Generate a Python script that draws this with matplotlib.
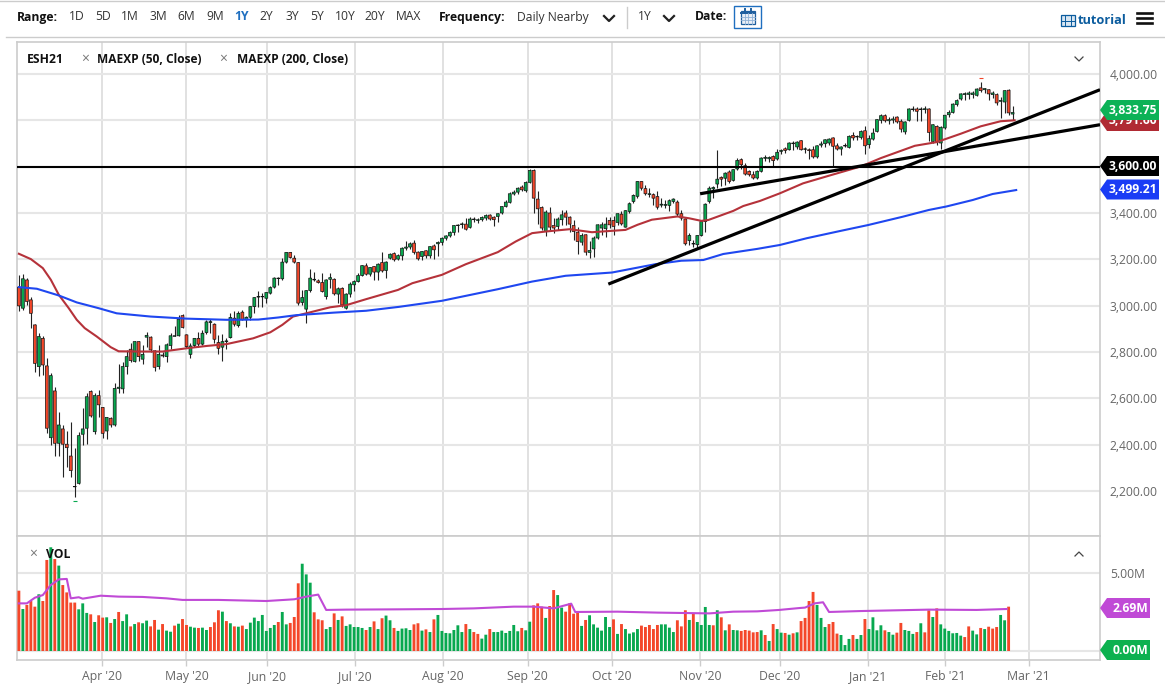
import matplotlib
matplotlib.use("Agg")
import matplotlib.pyplot as plt
from matplotlib.patches import Polygon, Rectangle
from matplotlib.lines import Line2D

plt.rcParams['font.family'] = ['Open Sans', 'DejaVu Sans']

# daily bars
opens = [3080,2989,3111,3025,2917,2737,2859,2740,2430,2632,
         2406,2468,2402,2351,2218,2233,2445,2471,2630,2456,
         2612,2561,2459,2514,2485,2643,2641,2737,2812,2759,
         2845,2769,2864,2864,2805,2737,2787,2780,2828,2868,
         2870,2957,2874,2790,2828,2859,2834,2884,2927,2920,
         2841,2821,2845,2862,2946,2914,2972,2939,2950,2996,
         3037,3038,3032,3054,3080,3117,3116,3188,3230,3205,
         3186,3014,2985,3065,3114,3107,3100,3039,3114,3114,
         3050,3075,2989,3050,3090,3104,3130,3172,3136,3169,
         3145,3186,3152,3205,3225,3201,3215,3248,3253,3270,
         3231,3212,3237,3215,3258,3267,3273,3291,3301,3316,
         3346,3350,3352,3338,3371,3368,3371,3378,3391,3382,
         3385,3400,3428,3446,3482,3490,3512,3496,3532,3584,
         3460,3424,3320,3400,3346,3342,3371,3400,3382,3346,
         3317,3274,3306,3230,3245,3292,3335,3332,3368,3368,
         3359,3395,3339,3407,3450,3472,3536,3505,3480,3479,
         3471,3434,3433,3433,3450,3447,3397,3374,3281,3266,
         3263,3303,3363,3450,3504,3525,3554,3550,3577,3541,
         3590,3630,3604,3580,3565,3551,3580,3636,3634,3644,
         3633,3666,3677,3673,3699,3685,3712,3675,3673,3673,
         3642,3693,3699,3702,3724,3690,3676,3689,3683,3735,
         3728,3726,3755,3695,3719,3752,3800,3820,3798,3801,
         3814,3796,3750,3800,3846,3849,3846,3846,3849,3709,
         3774,3702,3767,3824,3834,3868,3892,3911,3912,3911,
         3908,3940,3932,3932,3911,3911,3882,3879,3930,3827]
closes = [2999,3116,3018,2967,2751,2867,2744,2471,2698,2406,
          2485,2402,2387,2288,2220,2439,2468,2607,2524,2612,
          2572,2449,2518,2485,2643,2648,2737,2780,2763,2845,
          2780,2790,2872,2809,2734,2790,2783,2831,2870,2870,
          2941,2906,2823,2826,2859,2834,2881,2930,2931,2855,
          2816,2845,2848,2949,2920,2967,2939,2950,2996,3035,
          3039,3039,3057,3078,3119,3119,3188,3230,3208,3188,
          3011,3035,3065,3119,3111,3100,3061,3111,3121,3051,
          3073,3003,3050,3093,3104,3130,3173,3136,3165,3145,
          3179,3150,3188,3222,3198,3216,3248,3253,3267,3230,
          3202,3234,3215,3255,3241,3273,3291,3301,3316,3346,
          3348,3353,3330,3374,3374,3371,3381,3389,3374,3371,
          3397,3428,3447,3483,3490,3507,3500,3532,3584,3464,
          3418,3335,3404,3339,3335,3374,3392,3382,3352,3320,
          3277,3303,3231,3238,3292,3349,3349,3352,3349,3342,
          3397,3353,3410,3440,3476,3536,3507,3483,3483,3464,
          3425,3438,3437,3453,3460,3395,3378,3267,3303,3267,
          3303,3363,3438,3507,3510,3546,3546,3572,3536,3587,
          3627,3608,3568,3565,3551,3580,3637,3640,3640,3626,
          3662,3670,3670,3702,3702,3706,3673,3677,3669,3642,
          3690,3698,3716,3719,3688,3676,3685,3692,3731,3724,
          3731,3752,3690,3721,3745,3803,3820,3798,3803,3806,
          3793,3762,3793,3849,3849,3839,3849,3850,3748,3781,
          3705,3770,3822,3834,3870,3885,3914,3915,3918,3918,
          3935,3928,3937,3914,3918,3875,3886,3928,3832,3833.75]
highs = [3133,3136,3119,3039,2920,2884,2870,2773,2708,2651,
         2543,2485,2459,2499,2384,2456,2560,2622,2636,2622,
         2636,2564,2521,2521,2668,2747,2759,2809,2838,2848,
         2848,2831,2888,2870,2809,2831,2802,2838,2881,2914,
         2960,2965,2877,2838,2862,2888,2895,2939,2941,2924,
         2874,2877,2859,2967,2975,2977,2982,2956,2999,3039,
         3064,3054,3061,3083,3123,3123,3205,3231,3231,3219,
         3188,3068,3068,3158,3147,3114,3143,3114,3143,3119,
         3080,3080,3054,3100,3111,3140,3176,3183,3169,3172,
         3183,3230,3191,3227,3230,3222,3255,3277,3274,3284,
         3238,3238,3241,3258,3265,3277,3296,3307,3323,3349,
         3351,3359,3378,3382,3382,3378,3385,3395,3395,3388,
         3402,3431,3454,3489,3500,3512,3522,3536,3590,3590,
         3493,3431,3414,3425,3378,3382,3414,3414,3389,3371,
         3338,3313,3310,3277,3299,3352,3359,3382,3382,3388,
         3400,3407,3414,3446,3482,3540,3540,3522,3507,3486,
         3496,3464,3457,3460,3464,3454,3414,3378,3313,3284,
         3306,3371,3443,3515,3518,3670,3558,3577,3584,3591,
         3637,3637,3615,3587,3580,3587,3642,3652,3644,3652,
         3676,3676,3685,3705,3709,3712,3716,3685,3680,3690,
         3695,3709,3721,3724,3728,3702,3690,3702,3735,3748,
         3738,3757,3774,3738,3767,3806,3829,3827,3814,3817,
         3820,3806,3798,3853,3860,3856,3857,3863,3853,3786,
         3781,3774,3824,3846,3875,3892,3918,3921,3925,3925,
         3940,3964,3940,3935,3925,3918,3899,3932,3935,3860]
lows = [2975,2982,3003,2903,2715,2698,2701,2449,2399,2351,
        2351,2262,2305,2262,2175,2230,2399,2401,2521,2445,
        2521,2427,2425,2478,2482,2622,2622,2705,2759,2756,
        2762,2749,2823,2802,2720,2726,2777,2759,2812,2867,
        2867,2903,2816,2773,2823,2823,2831,2878,2881,2838,
        2792,2763,2813,2859,2914,2910,2936,2907,2939,2970,
        2993,2996,3011,3051,3075,3090,3111,3183,3205,3183,
        3003,3001,2927,3061,3108,3097,3057,3028,3075,3047,
        3011,2996,2985,3039,3064,3100,3126,3133,3130,3109,
        3111,3147,3121,3201,3193,3196,3195,3241,3244,3224,
        3195,3198,3205,3205,3201,3215,3263,3284,3296,3306,
        3320,3335,3325,3335,3359,3356,3364,3371,3368,3345,
        3359,3397,3424,3443,3476,3483,3493,3492,3529,3400,
        3352,3327,3299,3327,3313,3327,3349,3349,3317,3284,
        3224,3263,3219,3205,3209,3289,3306,3296,3335,3303,
        3349,3349,3338,3402,3443,3464,3500,3476,3471,3435,
        3418,3424,3421,3407,3443,3388,3371,3263,3263,3253,
        3244,3299,3316,3443,3464,3507,3515,3522,3529,3536,
        3587,3590,3565,3558,3547,3547,3575,3623,3618,3601,
        3630,3654,3659,3670,3673,3676,3670,3659,3633,3637,
        3637,3685,3685,3695,3604,3670,3652,3685,3680,3716,
        3716,3719,3656,3680,3716,3748,3788,3791,3785,3788,
        3788,3748,3742,3796,3839,3796,3796,3832,3709,3702,
        3695,3676,3762,3814,3832,3863,3886,3889,3892,3896,
        3904,3921,3918,3889,3896,3868,3810,3832,3824,3800]

# moving averages: bar index and value at points
ma50_idx = [0,3,6,8,10,12.5,14.5,16.5,19.5,23,25,31,36,42,47,52,58.7,63,66,68.7,72,78,82,87,
            95,98.6,106,112,120,124.5,128.6,132,138,143.6,152,155,158.6,165,168,171,172.8,179,181.5,
            185.7,190.7,196.5,203,208,211,216,224.5,230,236,241,246,249.5]
ma50_val = [3224,3201,3162,3112,3047,2989,2939,2903,2867,2821,2803,2802,2802,2816,2826,2834,2859,2885,2917,2953,2967,2993,3002,3028,
            3068,3097,3133,3179,3231,3277,3313,3320,3330,3317,3327,3349,3371,3385,3377,3366,3370,3409,3430,
            3452,3485,3528,3561,3586,3601,3637,3690,3706,3742,3774,3796,3800]
ma200_idx = [0,4.5,10,14.5,20,24.5,33,42,52,60,65,69.5,79,87,95.3,106,120,128.6,137,148.6,159.5,166,
             171.5,176.5,185,190.7,197.4,205.7,212.8,221.5,228,232.4,239,244,249.9]
ma200_val = [3080,3073,3044,3014,2989,2967,2953,2944,2939,2940,2949,2959,2970,2978,2995,3021,3071,3104,3129,3143,3179,3194,
             3197,3223,3245,3262,3291,3322,3348,3384,3413,3428,3456,3482,3499]

# volume in millions, r = down day, g = up day
volume = [3.85,2.68,2.94,3.19,2.83,3.62,3.19,5.81,6.62,5.87,
          5.45,4.21,3.74,3.09,3.09,2.66,3.04,2.43,2.34,1.85,
          2.28,2.13,2.15,1.79,2.04,2.49,1.91,2.34,1.57,1.72,
          1.83,1.77,1.94,1.57,1.98,1.36,1.72,1.30,1.23,1.62,
          1.74,2.04,1.66,1.55,1.49,1.47,1.49,1.34,1.53,1.83,
          2.60,2.51,1.91,1.77,1.57,1.55,1.62,1.40,1.81,2.13,
          1.91,2.30,1.28,1.47,1.66,1.85,2.49,1.70,1.79,2.17,
          4.32,5.57,4.89,4.36,2.47,2.02,1.96,1.40,1.53,2.40,
          1.98,2.21,1.60,1.70,1.53,1.53,1.47,1.34,1.53,1.89,
          1.40,2.09,2.26,1.96,1.47,1.28,1.43,1.45,1.34,1.70,
          1.77,1.30,1.38,1.21,2.02,2.30,1.28,1.15,1.13,1.34,
          1.64,1.21,1.72,1.40,1.21,1.09,0.79,1.04,1.40,1.21,
          1.21,1.30,1.15,1.28,1.66,1.26,1.47,1.32,1.87,2.91,
          3.04,2.83,2.11,2.87,3.89,3.57,2.77,2.51,3.04,2.38,
          2.47,1.60,1.98,2.28,1.70,1.49,1.30,2.17,1.53,2.02,
          1.09,1.72,1.40,1.11,1.19,1.40,1.62,1.53,1.66,1.40,
          1.66,1.70,1.70,1.49,1.21,1.96,1.57,2.60,1.98,2.40,
          1.85,1.66,2.81,1.66,1.64,2.60,2.15,1.32,1.70,1.34,
          1.32,1.28,1.34,1.30,1.19,1.21,1.32,1.02,0.64,1.72,
          1.40,1.17,1.15,1.04,1.13,1.19,1.91,2.11,3.19,3.77,
          2.94,2.11,1.53,1.72,1.85,1.11,1.02,0.38,0.77,1.02,
          0.77,1.02,2.04,1.40,2.15,1.32,1.64,1.32,1.21,1.04,
          1.17,1.79,1.34,1.28,1.09,1.21,1.77,1.19,2.60,2.17,
          2.72,1.70,1.43,1.28,1.13,1.15,0.98,0.89,1.57,1.30,
          1.06,1.47,1.40,1.55,1.43,1.53,2.30,1.96,2.83]
vol_dir = ("rgrrrgrrgr" "grrrrgggrg" "rrgrgrggrg" "rggrrgrggr" "grrggrggrr"
           "rgrgrgrggg" "gggggrggrr" "rgggrrrggr" "grgggggrgr" "grggrggggr"
           "rgrgrggggg" "ggrgrrggrg" "ggggggrggr" "rrgrrggrrr" "rgrggggggr"
           "grggggrrrr" "rggggrrrgr" "ggggrgrgrg" "grrrrrgrgr" "ggrgrgrrrr"
           "gggrrrgggr" "ggrggggrgg" "rrgggrgrrg" "rggggggrrg" "grgrrrggr")
vol_ma_idx = [0,2,4,6,8,10,12,13,15,16,20.5,25,31,37,41,50,62,69,72,75,77,82,95.5,
              106,114,124,129,134,138.4,139.4,150,160,173,179,185,190.5,195.5,197,199.4,201.5,203,211,228,240,247.5]
vol_ma_val = [3.04,3.04,3.40,3.57,4.21,4.57,4.60,3.36,3.43,3.34,3.53,3.47,3.45,3.36,3.26,3.26,3.19,3.30,3.47,3.60,2.62,2.64,2.66,
              2.68,2.72,2.83,2.83,2.72,3.02,2.49,2.51,2.45,2.40,2.51,2.53,2.62,2.74,2.77,3.04,3.11,2.49,2.55,2.64,2.62,2.68]

# axis labels, 3,600 and 3,800 are hidden by the value tags
price_ticks = [2200,2400,2600,2800,3000,3200,3400,3600,3800,4000]
price_hidden = [3600,3800]
month_pos = [20.9,42,62.2,84.3,106.3,127.5,148.6,170.7,190.7,212.8,232,253]
month_labels = ["Apr '20","May '20","Jun '20","Jul '20","Aug '20","Sep '20","Oct '20",
                "Nov '20","Dec '20","Jan '21","Feb '21","Mar '21"]

# hand drawn trend lines (bar index, price)
trend_a_x, trend_a_y = [147.7,270.9], [3093,3932]
trend_b_x, trend_b_y = [170.7,270.9], [3483,3781]
level_3600 = 3600

GREEN = '#08a84f'
RED = '#f4472a'
W, H = 1165, 691

fig = plt.figure(figsize=(W/100, H/100), dpi=100, facecolor='white')

def axes_px(left, top, right, bottom):
    return fig.add_axes([left/W, 1-bottom/H, (right-left)/W, (bottom-top)/H])

def ftext(x, y, s, **kw):
    kw.setdefault('va', 'center')
    kw.setdefault('fontsize', 8.7)
    fig.text(x/W, 1-y/H, s, **kw)

def fline(xs, ys, **kw):
    fig.add_artist(Line2D([x/W for x in xs], [1-y/H for y in ys], **kw))

def frect(x0, y0, x1, y1, **kw):
    fig.add_artist(Rectangle((x0/W, 1-y1/H), (x1-x0)/W, (y1-y0)/H, **kw))

def tag(y, s, color, right=1159, z=5):
    # coloured value tag with a point on its left side
    pts = [(1100,y),(1107,y-10),(right,y-10),(right,y+10),(1107,y+10)]
    fig.add_artist(Polygon([(a/W, 1-b/H) for a, b in pts], closed=True, color=color, lw=0, zorder=z))
    fig.text((right-2)/W, 1-y/H, s, color='white', fontweight='bold', fontsize=8.7, ha='right', va='center', zorder=z+0.1)

def style_axes(a):
    a.set_facecolor('white')
    a.set_xlim(-0.47, 270.9)
    for s in a.spines.values():
        s.set_color('#cccccc')
        s.set_linewidth(1.2)
    a.set_xticks(month_pos)
    a.grid(True, axis='x', color='#d9d9d9', lw=1.1)
    a.grid(True, axis='y', color='#e6e6e6', lw=1.5)
    a.set_axisbelow(True)

# price panel
ax = axes_px(17, 42, 1100, 535.5)
style_axes(ax)
ax.set_ylim(2008, 4138)
ax.set_yticks(price_ticks)
ax.yaxis.tick_right()
ax.set_yticklabels(["" if p in price_hidden else f"{p:,.2f}" for p in price_ticks], color='#666666', fontsize=8.7)
ax.tick_params(axis='y', length=0, pad=7)
ax.tick_params(axis='x', length=0, labelbottom=False)

xs = list(range(len(closes)))
ax.vlines(xs, lows, highs, color='#222222', lw=0.8, zorder=3)
bottoms = [min(o, c) for o, c in zip(opens, closes)]
heights = [max(abs(c-o), 2) for o, c in zip(opens, closes)]
colors = [GREEN if c >= o else RED for o, c in zip(opens, closes)]
candles = ax.bar(xs, heights, bottom=bottoms, width=0.72, color=colors, edgecolor='#111111', linewidth=0.5, zorder=4)
for b in candles:
    b.set_snap(False)

ax.plot(ma50_idx, ma50_val, color='#b5323a', lw=1.5, zorder=5, solid_joinstyle='round')
ax.plot(ma200_idx, ma200_val, color='#1f47f0', lw=1.5, zorder=5, solid_joinstyle='round')
ax.plot([241], [3983], marker='_', color='#f0462a', ms=3, mew=0.8, zorder=5)
ax.plot([14], [2158], marker='_', color='#08a84f', ms=3, mew=0.8, zorder=5)

ax.axhline(level_3600, color='black', lw=1.5, zorder=6)
ax.plot(trend_a_x, trend_a_y, color='black', lw=2.3, zorder=6, solid_capstyle='butt')
ax.plot(trend_b_x, trend_b_y, color='black', lw=2.3, zorder=6, solid_capstyle='butt')

# volume panel
vax = axes_px(17, 536, 1100, 660)
style_axes(vax)
vax.set_ylim(-0.575, 7.34)
vax.set_yticks([0, 5])
vax.yaxis.tick_right()
vax.set_yticklabels(["", "5.00M"], color='#666666', fontsize=8.7)
vax.tick_params(axis='y', length=0, pad=7)
vax.set_xticklabels(month_labels, color='#666666', fontsize=8.8)
vax.tick_params(axis='x', length=4, color='#cccccc', width=1, pad=3)
vol_colors = [RED if d == 'r' else GREEN for d in vol_dir]
vol_bars = vax.bar(range(len(volume)), volume, width=0.72, color=vol_colors, linewidth=0, zorder=3)
for b in vol_bars:
    b.set_snap(False)
vax.plot(vol_ma_idx, vol_ma_val, color='#c04ad6', lw=1.5, zorder=4, solid_joinstyle='round')

# value tags, the red one sits behind the green one
tag(121, "3,791.60", '#b02a33', z=5)
tag(110, "3,833.75", '#0cb257', z=6)
tag(166, "3,600.00", '#000000')
tag(189.5, "3,499.21", '#1a3cf5')
tag(608, "2.69M", '#c04ad6', right=1150)
tag(650, "0.00M", '#0cb14f', right=1150)

# panel legends
ftext(27, 59.5, "ESH21", fontweight='bold', color='#111111')
ftext(85, 59, "×", color='#777777', ha='center', fontsize=10)
ftext(97, 59.5, "MAEXP (50, Close)", fontweight='bold', color='#111111', fontsize=8.6)
ftext(223, 59, "×", color='#777777', ha='center', fontsize=10)
ftext(237, 59.5, "MAEXP (200, Close)", fontweight='bold', color='#111111', fontsize=8.6)
ftext(33, 554, "×", color='#777777', ha='center', fontsize=10)
ftext(46, 554, "VOL", fontweight='bold', color='#111111')
fline([1075,1079,1083], [57,61,57], color='#444444', lw=0.9)
fline([1075,1079,1083], [556,552,556], color='#444444', lw=0.9)

# toolbar
fline([0,1165], [1,1], color='#cccccc', lw=1)
fline([6,1165], [36.5,36.5], color='#cccccc', lw=1)
ftext(17, 17, "Range:", fontweight='bold', color='#111111')
range_items = ["1D","5D","1M","3M","6M","9M","1Y","2Y","3Y","5Y","10Y","20Y","MAX"]
range_x = [77,103,130,158,186,215,242,266,292,317,345,375,409]
for rx, item in zip(range_x, range_items):
    if item == "1Y":
        ftext(rx, 17, item, ha='center', color='#1f6fc0', fontweight='bold')
    else:
        ftext(rx, 17, item, ha='center', color='#333333')
ftext(439, 17, "Frequency:", fontweight='bold', color='#111111')
ftext(517, 17, "Daily Nearby", color='#333333')
fline([604,609,614], [16,21,16], color='#222222', lw=1.6)
fline([627,627], [7,28], color='#cccccc', lw=1)
ftext(638, 17, "1Y", color='#333333')
fline([664,669,674], [16,21,16], color='#222222', lw=1.6)
ftext(695, 17, "Date:", fontweight='bold', color='#111111')

# calendar button
frect(734.5, 5.5, 761.5, 28, fill=False, ec='#1f6fc0', lw=1)
frect(741, 11, 755, 23.5, fc='#e8eef6', ec='#1f5f9e', lw=0.9)
fline([741,755], [13,13], color='#1f5f9e', lw=1.4)
for gx in [744.5, 748, 751.5]:
    fline([gx,gx], [13,23.5], color='#8fb2d6', lw=0.6)
for gy in [16.5, 20]:
    fline([741,755], [gy,gy], color='#8fb2d6', lw=0.6)
for gx in [745, 751]:
    fline([gx,gx], [9,12.5], color='#1f5f9e', lw=1.4)

# tutorial link with film icon
frect(1061, 15.5, 1075, 26, fc='#d8e6f2', ec='#0b5c9e', lw=0.9)
fline([1065,1065], [15.5,26], color='#0b5c9e', lw=0.7)
fline([1071,1071], [15.5,26], color='#0b5c9e', lw=0.7)
fline([1061,1075], [20.7,20.7], color='#0b5c9e', lw=0.7)
ftext(1078, 21, "tutorial", fontweight='bold', color='#0b5c9e', fontsize=9.2)
for hy in [12.5, 17.5, 23]:
    fline([1137,1152], [hy,hy], color='#111111', lw=1.9)

fig.savefig('out.png', dpi=100)
